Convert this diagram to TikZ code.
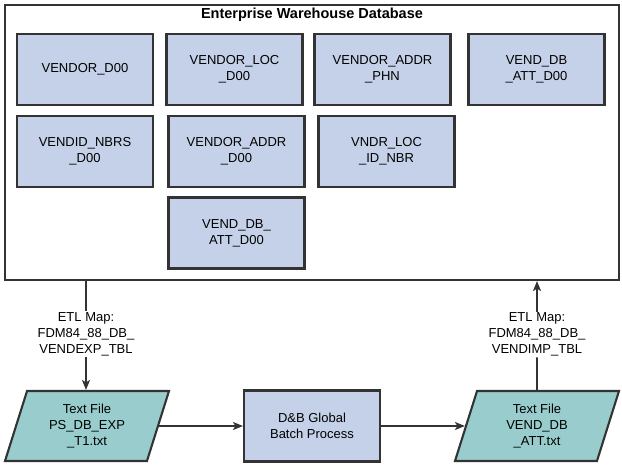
\documentclass[tikz,border=0pt]{standalone}
\usepackage{fontspec}
\setmainfont{Liberation Sans}
\usetikzlibrary{shapes.geometric,arrows.meta}
\definecolor{edge}{HTML}{333333}
\definecolor{tblfill}{HTML}{C5D1E8}
\definecolor{filefill}{HTML}{99CCCC}
\begin{document}
\begin{tikzpicture}[x=1pt,y=-1pt,
  txt/.style={font=\fontsize{13}{16}\selectfont, align=center, text=black},
  tbl/.style={txt, draw=edge, line width=2.1pt, fill=tblfill, minimum width=136pt, minimum height=71pt, inner sep=0pt},
  filebox/.style={txt, draw=edge, line width=2.1pt, fill=filefill, trapezium, trapezium left angle=63.4, trapezium right angle=116.6, trapezium stretches body, minimum width=164pt, minimum height=70pt, inner sep=0pt},
  lbl/.style={txt, inner sep=1pt},
  conn/.style={draw=edge, line width=1.8pt},
  arr/.style={conn, -{Stealth[length=10pt,width=8pt,inset=2.5pt]}}
]
\useasboundingbox (0,0) rectangle (622,464);
\node[draw=edge, line width=2.1pt, minimum width=614pt, minimum height=275pt, inner sep=0pt] (ewd) at (312,142.5) {};
\node[font=\bfseries\fontsize{14.5}{16}\selectfont] (title) at (312,14.5) {Enterprise Warehouse Database};

\node[tbl] (b1) at (85,69.5) {VENDOR\_D00};
\node[tbl] (b2) at (234.5,69.5) {VENDOR\_LOC\\\_D00};
\node[tbl] (b3) at (382.5,69.5) {VENDOR\_ADDR\\\_PHN};
\node[tbl] (b4) at (536.5,69.5) {VEND\_DB\\\_ATT\_D00};
\node[tbl] (b5) at (85,151.5) {VENDID\_NBRS\\\_D00};
\node[tbl] (b6) at (236.5,151.5) {VENDOR\_ADDR\\\_D00};
\node[tbl] (b7) at (386.5,151.5) {VNDR\_LOC\\\_ID\_NBR};
\node[tbl] (b8) at (236.5,233) {VEND\_DB\_\\ATT\_D00};

\node[filebox] (lp) at (87,426) {Text File\\PS\_DB\_EXP\\\_T1.txt};
\node[tbl] (mid) at (312,426) {D\&B Global\\Batch Process};
\node[filebox] (rp) at (537,426) {Text File\\VEND\_DB\\\_ATT.txt};

\node[lbl] (ll) at (86,334) {ETL Map:\\FDM84\_88\_DB\_\\VENDEXP\_TBL};
\node[lbl] (rl) at (537,334.5) {ETL Map:\\FDM84\_88\_DB\_\\VENDIMP\_TBL};

\path[conn] (ewd.south -| ll) -- (ll);
\path[arr] (ll) -- (ll |- lp.north);
\path[arr] (lp) -- (mid);
\path[arr] (mid) -- (rp);
\path[conn] (rp) -- (rl);
\path[arr] (rl) -- (ewd.south -| rl);
\end{tikzpicture}
\end{document}
